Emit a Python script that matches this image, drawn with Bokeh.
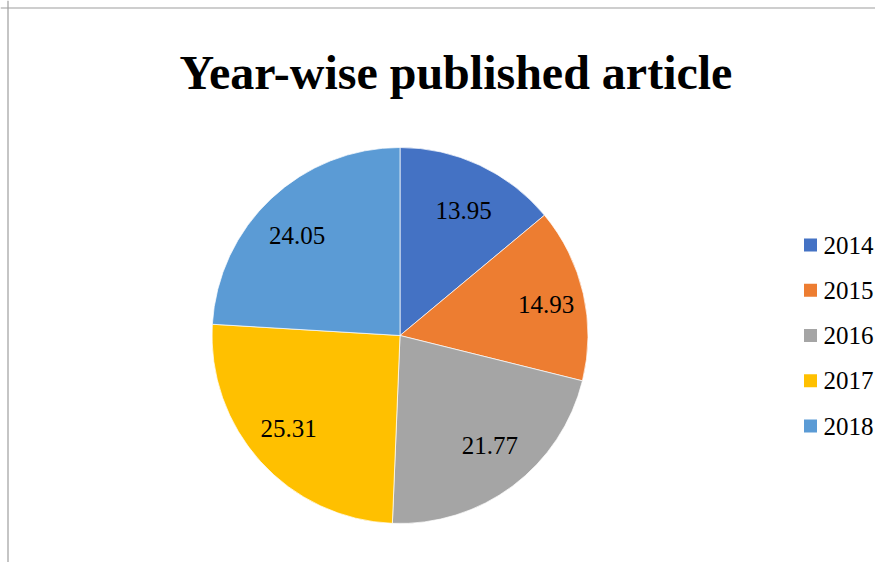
import math
from bokeh.plotting import figure
from bokeh.models import Range1d, ColumnDataSource, Span
from bokeh.core.properties import value
from bokeh.embed import file_html
from bokeh.resources import INLINE

# ---- data ----
years = ["2014", "2015", "2016", "2017", "2018"]
shares = [13.95, 14.93, 21.77, 25.31, 24.05]
colors = ["#4472C4", "#ED7D31", "#A5A5A5", "#FFC000", "#5B9BD5"]
title_text = "Year-wise published article"

# ---- layout (pixels) ----
W, H = 875, 562
cx, cy = 399.5, H - 335.0
R = 188.0
FONT = "Liberation Serif"

p = figure(width=W, height=H, output_backend="svg", toolbar_location=None,
           x_range=Range1d(0, W), y_range=Range1d(0, H), min_border=0,
           tools="")
p.xaxis.visible = False
p.yaxis.visible = False
p.grid.visible = False
p.outline_line_color = None
p.background_fill_color = "white"
p.border_fill_color = "white"

# chart border (top and left visible)
p.add_layout(Span(location=7.5, dimension="height", line_color="#9E9E9E", line_width=1.2))
p.add_layout(Span(location=H - 7.5, dimension="width", line_color="#9E9E9E", line_width=1.2))

total = sum(shares)
starts, ends, mids = [], [], []
cum = 0.0
for s in shares:
    a0 = math.pi / 2 - 2 * math.pi * cum / total
    cum += s
    a1 = math.pi / 2 - 2 * math.pi * cum / total
    starts.append(a0)
    ends.append(a1)
    mids.append((a0 + a1) / 2)

src = ColumnDataSource(dict(start=starts, end=ends, color=colors, year=years))
p.wedge(x=cx, y=cy, radius=R, start_angle="start", end_angle="end",
        direction="clock", fill_color="color", line_color="white",
        line_width=0.7, source=src)

# data labels
lx = [cx + 150 * math.cos(m) for m in mids]
ly = [cy + 138 * math.sin(m) for m in mids]
labels = ["%.2f" % s for s in shares]
p.text(x=lx, y=ly, text=labels, text_align="center", text_baseline="middle",
       text_font=value(FONT), text_font_size="25px", text_color="black")

# title
p.text(x=[455.5], y=[H - 72], text=[title_text], text_align="center",
       text_baseline="alphabetic", text_font=value(FONT),
       text_font_size="48px", text_font_style="bold", text_color="black")

# legend
step = 45.25
leg_y = [cy + (2 - i) * step for i in range(len(years))]
p.rect(x=[810] * len(years), y=leg_y, width=13, height=13,
       fill_color=colors, line_color=None)
p.text(x=[823] * len(years), y=leg_y, text=years, text_align="left",
       text_baseline="middle", text_font=value(FONT),
       text_font_size="25px", text_color="black")

open("out.html", "w").write(file_html(p, INLINE))
